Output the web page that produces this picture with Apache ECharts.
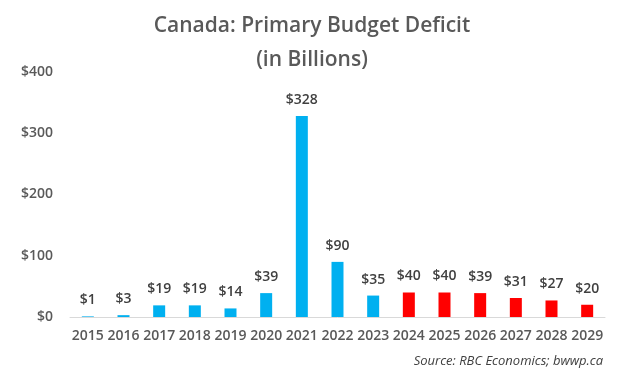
<!DOCTYPE html>
<html><head><meta charset="utf-8">
<script src="https://cdn.jsdelivr.net/npm/echarts@6/dist/echarts.min.js"></script>
<style>html,body{margin:0;padding:0;background:#fff}#c{width:624px;height:374px}</style>
</head><body><div id="c"></div>
<script>
const years = ['2015','2016','2017','2018','2019','2020','2021','2022','2023','2024','2025','2026','2027','2028','2029'];
const deficits = [1,3,19,19,14,39,328,90,35,40,40,39,31,27,20];
const forecastFrom = '2024';
const yTicks = [0,100,200,300,400];
const titleText = 'Canada: Primary Budget Deficit\n(in Billions)';
const sourceText = 'Source: RBC Economics; bwwp.ca';

const fIdx = years.indexOf(forecastFrom);
const chart = echarts.init(document.getElementById('c'));
chart.setOption({
  animation: false,
  backgroundColor: '#fff',
  title: [{
    text: titleText, left: 'center', top: 4,
    textStyle: {fontFamily: 'Open Sans', fontSize: 21, fontWeight: 600, color: '#595959', lineHeight: 34}
  }, {
    text: sourceText, right: 16, top: 350,
    textStyle: {fontFamily: 'Open Sans', fontSize: 13, fontStyle: 'italic', fontWeight: 'normal', color: '#404040'}
  }],
  grid: {left: 70, right: 19, top: 72, bottom: 57},
  xAxis: {
    type: 'category', data: years,
    axisLine: {lineStyle: {color: '#d9d9d9', width: 1}},
    axisTick: {show: false},
    axisLabel: {fontFamily: 'Open Sans', fontSize: 14, fontWeight: 600, color: '#595959', margin: 12, interval: 0}
  },
  yAxis: {
    type: 'value', min: yTicks[0], max: yTicks[yTicks.length-1], interval: 100,
    splitLine: {show: false},
    axisLine: {show: false}, axisTick: {show: false},
    axisLabel: {fontFamily: 'Open Sans', fontSize: 14, fontWeight: 600, color: '#595959', margin: 17,
      formatter: v => '$' + v}
  },
  series: [{
    type: 'bar', barWidth: 12,
    data: deficits.map((v, i) => ({value: v, itemStyle: {color: i >= fIdx ? '#FF0000' : '#00B0F0'}})),
    label: {show: true, position: 'top', distance: 9, fontFamily: 'Open Sans', fontSize: 14, fontWeight: 600,
      color: '#404040', formatter: p => '$' + p.value}
  }]
});
</script></body></html>
